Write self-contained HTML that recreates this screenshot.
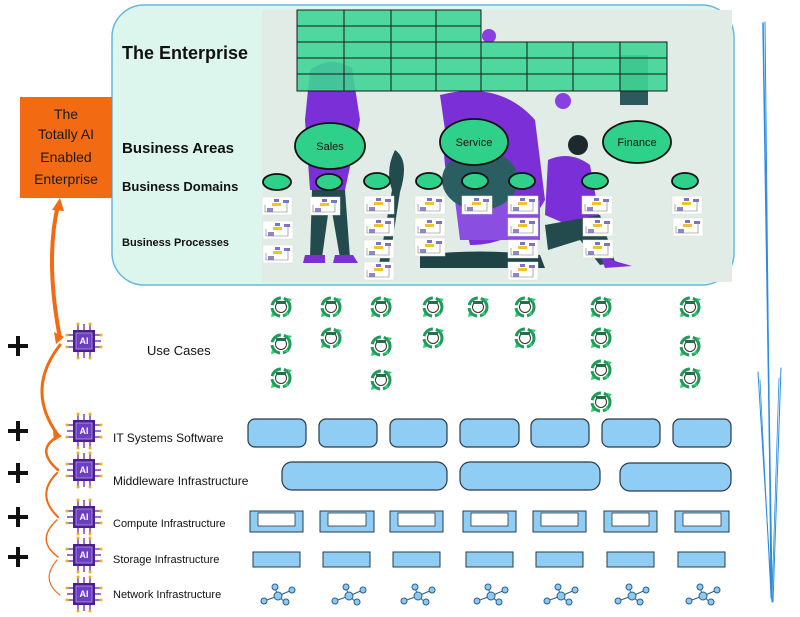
<!DOCTYPE html>
<html><head><meta charset="utf-8"><style>
html,body{margin:0;padding:0;background:#fff}
svg{display:block}
text{font-family:"Liberation Sans","DejaVu Sans",sans-serif}
</style></head><body>
<svg width="800" height="617" viewBox="0 0 800 617" xmlns="http://www.w3.org/2000/svg">
<defs>
<g id="chip">
 <g stroke="#7a3fc0" stroke-width="1.5">
  <line x1="-6" y1="-16" x2="-6" y2="-11"/><line x1="0" y1="-17" x2="0" y2="-11"/><line x1="6" y1="-16" x2="6" y2="-11"/>
  <line x1="-6" y1="16" x2="-6" y2="11"/><line x1="0" y1="17" x2="0" y2="11"/><line x1="6" y1="16" x2="6" y2="11"/>
  <line x1="-16" y1="-6" x2="-11" y2="-6"/><line x1="-17" y1="0" x2="-11" y2="0"/><line x1="-16" y1="6" x2="-11" y2="6"/>
  <line x1="16" y1="-6" x2="11" y2="-6"/><line x1="17" y1="0" x2="11" y2="0"/><line x1="16" y1="6" x2="11" y2="6"/>
 </g>
 <g fill="#f2b01e">
  <circle cx="-6" cy="-17" r="1.5"/><circle cx="6" cy="-17" r="1.5"/><circle cx="-6" cy="17" r="1.5"/><circle cx="6" cy="17" r="1.5"/>
  <circle cx="-17" cy="-6" r="1.5"/><circle cx="-17" cy="6" r="1.5"/><circle cx="17" cy="-6" r="1.5"/><circle cx="17" cy="6" r="1.5"/>
 </g>
 <rect x="-11" y="-11" width="22" height="22" fill="#4a1f8c"/>
 <rect x="-8" y="-8" width="16" height="16" fill="#6b3fc4" stroke="#b89be8" stroke-width="0.8"/>
</g>
<g id="uc">
 <circle cx="0" cy="0" r="9" fill="none" stroke="#1f9a5a" stroke-width="3" stroke-dasharray="12 3"/>
 <circle cx="0" cy="0" r="5.5" fill="#fff" stroke="#333" stroke-width="1"/>
 <path d="M-5,-3 h10 v-3 h-10z" fill="#2c6b4a"/>
 <path d="M6,-9 l5,1 l-3,3z M-9,5 l-1,5 l4,-1z M3,8 l5,0 l-2,-4z" fill="#2ecc71"/>
</g>
<g id="proc">
 <rect x="0" y="0" width="30" height="18" fill="#fff" stroke="#ddd" stroke-width="0.5"/>
 <rect x="10" y="6" width="9" height="3" fill="#f2c12e"/>
 <rect x="12" y="2" width="5" height="3" fill="#7d72c8"/>
 <rect x="21" y="3" width="6" height="3" fill="#7d72c8"/>
 <rect x="5" y="11" width="6" height="4" fill="#8d86d0"/>
 <path d="M3,8 v7 h22 v-9" fill="none" stroke="#777" stroke-width="0.6"/>
</g>
<g id="net" fill="#8ccaf2" stroke="#2a5d8a" stroke-width="1">
 <path d="M-14,5 L0,0 L14,-6 M0,0 L-3,-8 M0,0 L7,6" fill="none"/>
 <circle cx="-14" cy="5" r="3"/><circle cx="0" cy="0" r="4"/><circle cx="14" cy="-6" r="3"/><circle cx="-3" cy="-9" r="3"/><circle cx="8" cy="6" r="3"/>
</g>
</defs>

<rect x="112" y="5" width="622" height="280" rx="32" fill="#dcf6ee" stroke="#66b8e0" stroke-width="1.5"/>
<rect x="262" y="10" width="470" height="272" fill="#e0ece5"/>
<!-- illustration figures approx -->
<path d="M310,70 Q330,55 352,68 L360,120 L345,190 L310,190 L305,120z" fill="#7b2fd6"/>
<path d="M312,190 L310,258 L322,258 L330,200 L340,258 L350,258 L345,190z" fill="#234a4c"/>
<path d="M305,255 h20 v8 h-22z M335,255 h18 l5,8 h-25z" fill="#7b2fd6"/>
<path d="M440,95 Q500,80 535,120 L545,200 Q520,245 470,245 L460,200 Q440,180 445,130z" fill="#7b2fd6"/>
<path d="M455,200 L540,200 L540,240 L460,240z" fill="#8a4fe0"/>
<ellipse cx="480" cy="180" rx="38" ry="30" fill="#2b5e62"/>
<path d="M420,255 Q480,248 540,255 L545,268 L420,268z" fill="#1e4446"/>
<path d="M548,160 Q570,150 590,165 L600,220 L580,230 L545,215z" fill="#7b2fd6"/>
<path d="M545,225 L600,215 L615,262 L600,265 L580,240 L548,250z" fill="#234a4c"/>
<path d="M600,255 L618,262 L632,266 L605,268z" fill="#7b2fd6"/>
<circle cx="578" cy="145" r="10" fill="#1c2a30"/>
<path d="M395,150 Q385,170 392,190 L378,270 L388,270 L400,192 Q410,160 395,150z" fill="#234a4c"/>
<path d="M620,55 h28 v50 h-28z" fill="#2c5a5c"/>
<circle cx="563" cy="101" r="8" fill="#8a3fe0"/>
<circle cx="489" cy="36" r="7" fill="#8a3fe0"/>

<!-- green grid -->
<g fill="#3fd595" fill-opacity="0.9" stroke="#1a1a1a" stroke-width="1">
 <rect x="297" y="10" width="184" height="81"/>
 <rect x="481" y="42" width="186" height="49"/>
</g>
<g stroke="#1a1a1a" stroke-width="1">
 <line x1="297" y1="26" x2="481" y2="26"/><line x1="297" y1="42" x2="481" y2="42"/>
 <line x1="297" y1="58" x2="667" y2="58"/><line x1="297" y1="74" x2="667" y2="74"/>
 <line x1="344" y1="10" x2="344" y2="91"/><line x1="391" y1="10" x2="391" y2="91"/><line x1="436" y1="10" x2="436" y2="91"/>
 <line x1="527" y1="42" x2="527" y2="91"/><line x1="573" y1="42" x2="573" y2="91"/><line x1="620" y1="42" x2="620" y2="91"/>
</g>

<g fill="#2fd08a" stroke="#111" stroke-width="1.8">
 <ellipse cx="330" cy="146" rx="35" ry="23"/>
 <ellipse cx="474" cy="142" rx="34" ry="23"/>
 <ellipse cx="637" cy="142" rx="34" ry="21"/>
 <ellipse cx="277" cy="182" rx="14" ry="8"/><ellipse cx="329" cy="182" rx="13" ry="8"/>
 <ellipse cx="377" cy="181" rx="13" ry="8"/><ellipse cx="429" cy="181" rx="13" ry="8"/>
 <ellipse cx="475" cy="181" rx="13" ry="8"/><ellipse cx="522" cy="181" rx="13" ry="8"/>
 <ellipse cx="595" cy="181" rx="13" ry="8"/><ellipse cx="685" cy="181" rx="13" ry="8"/>
</g>
<g font-size="11" fill="#111" text-anchor="middle">
 <text x="330" y="150">Sales</text><text x="474" y="146">Service</text><text x="637" y="146">Finance</text>
</g>

<use href="#proc" x="262" y="197"/><use href="#proc" x="263" y="221"/><use href="#proc" x="263" y="245"/>
<use href="#proc" x="310" y="197"/>
<use href="#proc" x="364" y="196"/><use href="#proc" x="364" y="218"/><use href="#proc" x="364" y="240"/><use href="#proc" x="364" y="262"/>
<use href="#proc" x="415" y="196"/><use href="#proc" x="415" y="218"/><use href="#proc" x="415" y="238"/>
<use href="#proc" x="462" y="196"/>
<use href="#proc" x="508" y="196"/><use href="#proc" x="508" y="218"/><use href="#proc" x="508" y="240"/><use href="#proc" x="508" y="262"/>
<use href="#proc" x="582" y="196"/><use href="#proc" x="583" y="218"/><use href="#proc" x="583" y="240"/>
<use href="#proc" x="672" y="196"/><use href="#proc" x="673" y="218"/>

<g fill="#111" font-weight="bold">
 <text x="122" y="59" font-size="18">The Enterprise</text>
 <text x="122" y="153" font-size="15">Business Areas</text>
 <text x="122" y="191" font-size="13">Business Domains</text>
 <text x="122" y="246" font-size="11">Business Processes</text>
</g>

<rect x="20" y="97" width="92" height="101" fill="#f26a12"/>
<g font-size="14" fill="#1a1a1a" text-anchor="middle">
 <text x="66" y="119">The</text><text x="66" y="139">Totally AI</text>
 <text x="66" y="162">Enabled</text><text x="66" y="184">Enterprise</text>
</g>

<g fill="none" stroke="#f26a12" stroke-linecap="round">
 <path d="M58,205 Q45,260 60,338" stroke-width="4"/>
 <path d="M60,345 Q25,390 58,435" stroke-width="3"/>
 <path d="M57,437 Q35,450 58,470" stroke-width="2.5"/>
 <path d="M57,473 Q35,495 58,517" stroke-width="2"/>
 <path d="M57,520 Q35,540 58,557" stroke-width="1.5"/>
 <path d="M57,560 Q40,580 60,595" stroke-width="1.2"/>
</g>
<g fill="#f26a12">
 <path d="M52,210 L60,198 L64,211z"/><path d="M54,332 L64,337 L56,344z"/>
 <path d="M53,430 L62,436 L54,441z"/>
</g>

<use href="#chip" x="84" y="341"/><use href="#chip" x="84" y="431"/><use href="#chip" x="84" y="470"/>
<use href="#chip" x="84" y="517"/><use href="#chip" x="84" y="555"/><use href="#chip" x="84" y="594"/>
<g font-size="9" font-weight="bold" fill="#fff" text-anchor="middle">
 <text x="84" y="344">AI</text><text x="84" y="434">AI</text><text x="84" y="473">AI</text>
 <text x="84" y="520">AI</text><text x="84" y="558">AI</text><text x="84" y="597">AI</text>
</g>

<g stroke="#111" stroke-width="4">
 <path d="M8,346 h20 M18,336 v20"/><path d="M8,431 h20 M18,421 v20"/>
 <path d="M8,473 h20 M18,463 v20"/><path d="M8,517 h20 M18,507 v20"/>
 <path d="M8,557 h20 M18,547 v20"/>
</g>

<g fill="#111">
 <text x="147" y="355" font-size="13">Use Cases</text>
 <text x="113" y="442" font-size="12">IT Systems Software</text>
 <text x="113" y="485" font-size="12">Middleware Infrastructure</text>
 <text x="113" y="527" font-size="11">Compute Infrastructure</text>
 <text x="113" y="563" font-size="11">Storage Infrastructure</text>
 <text x="113" y="598" font-size="11">Network Infrastructure</text>
</g>

<use href="#uc" x="281" y="307"/><use href="#uc" x="331" y="307"/><use href="#uc" x="381" y="307"/><use href="#uc" x="433" y="307"/>
<use href="#uc" x="478" y="307"/><use href="#uc" x="525" y="307"/><use href="#uc" x="601" y="307"/><use href="#uc" x="690" y="307"/>
<use href="#uc" x="281" y="344"/><use href="#uc" x="331" y="338"/><use href="#uc" x="381" y="346"/><use href="#uc" x="433" y="338"/>
<use href="#uc" x="525" y="338"/><use href="#uc" x="601" y="338"/><use href="#uc" x="690" y="346"/>
<use href="#uc" x="281" y="378"/><use href="#uc" x="381" y="380"/><use href="#uc" x="601" y="370"/><use href="#uc" x="690" y="378"/>
<use href="#uc" x="601" y="402"/>

<g fill="#8fcdf5" stroke="#2a3a48" stroke-width="1.2">
 <rect x="248" y="419" width="58" height="28" rx="7"/><rect x="319" y="419" width="58" height="28" rx="7"/>
 <rect x="390" y="419" width="57" height="28" rx="7"/><rect x="460" y="419" width="59" height="28" rx="7"/>
 <rect x="531" y="419" width="58" height="28" rx="7"/><rect x="602" y="419" width="58" height="28" rx="7"/>
 <rect x="673" y="419" width="58" height="28" rx="7"/>
 <rect x="282" y="462" width="165" height="28" rx="10"/><rect x="460" y="462" width="140" height="28" rx="10"/>
 <rect x="620" y="463" width="111" height="28" rx="10"/>
</g>
<g fill="#8fcdf5" stroke="#2a3a48" stroke-width="1">
 <rect x="250" y="511" width="53" height="21"/><rect x="320" y="511" width="54" height="21"/>
 <rect x="390" y="511" width="53" height="21"/><rect x="463" y="511" width="53" height="21"/>
 <rect x="533" y="511" width="53" height="21"/><rect x="604" y="511" width="53" height="21"/>
 <rect x="675" y="511" width="54" height="21"/>
</g>
<g fill="#fff" stroke="#2a3a48" stroke-width="0.8">
 <rect x="258" y="513" width="37" height="13"/><rect x="328" y="513" width="38" height="13"/>
 <rect x="398" y="513" width="37" height="13"/><rect x="471" y="513" width="37" height="13"/>
 <rect x="541" y="513" width="37" height="13"/><rect x="612" y="513" width="37" height="13"/>
 <rect x="683" y="513" width="38" height="13"/>
</g>
<g fill="#8fcdf5" stroke="#2a3a48" stroke-width="1">
 <rect x="253" y="552" width="47" height="15"/><rect x="323" y="552" width="47" height="15"/>
 <rect x="393" y="552" width="47" height="15"/><rect x="466" y="552" width="47" height="15"/>
 <rect x="536" y="552" width="47" height="15"/><rect x="607" y="552" width="47" height="15"/>
 <rect x="678" y="552" width="47" height="15"/>
</g>
<use href="#net" x="278" y="596"/><use href="#net" x="349" y="596"/><use href="#net" x="418" y="596"/>
<use href="#net" x="491" y="596"/><use href="#net" x="561" y="596"/><use href="#net" x="632" y="596"/>
<use href="#net" x="703" y="596"/>

<g stroke="#2a8de0" fill="none" stroke-linecap="round">
 <path d="M763,23 L772,600" stroke-width="1.5"/>
 <path d="M765,22 L771,598" stroke-width="1"/>
 <path d="M758,372 L772,602" stroke-width="1"/>
 <path d="M760,380 L771,598" stroke-width="0.8"/>
 <path d="M781,368 L773,602" stroke-width="1"/>
 <path d="M779,378 L772,598" stroke-width="0.8"/>
</g>
</svg>
</body></html>
